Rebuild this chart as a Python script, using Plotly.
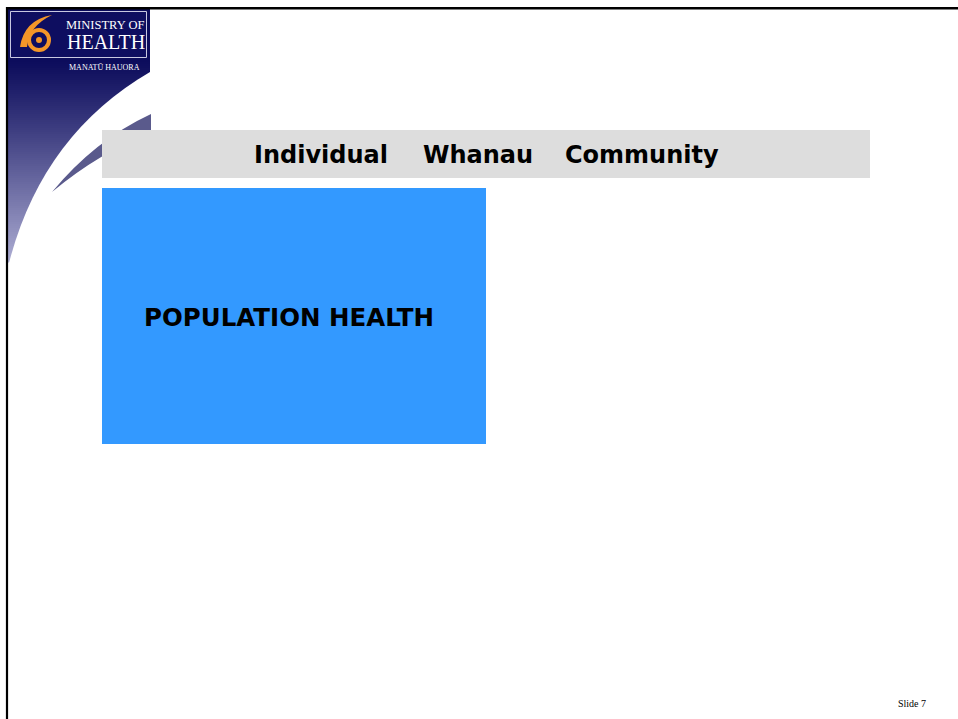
import plotly.graph_objects as go

# ---- content ----
header_words = ["Individual", "Whanau", "Community"]
box_label = "POPULATION HEALTH"
slide_label = "Slide 7"
logo_lines = ["MINISTRY OF", "HEALTH", "MANATŪ HAUORA"]

W, H = 958, 719

def lerp_color(c0, c1, t):
    return "rgb(%d,%d,%d)" % tuple(round(a + (b - a) * t) for a, b in zip(c0, c1))

shapes = []
# sidebar solid top
shapes.append(dict(type="rect", x0=7, x1=150, y0=8, y1=60, fillcolor="rgb(12,12,92)", line_width=0, layer="below"))
# sidebar gradient strips
c_top, c_bot = (12, 12, 92), (172, 172, 210)
y_start, y_end, n = 60, 262, 101
step = (y_end - y_start) / n
for i in range(n):
    t = i / (n - 1)
    shapes.append(dict(type="rect", x0=7, x1=150, y0=y_start + i * step, y1=y_start + (i + 1) * step + 0.6,
                       fillcolor=lerp_color(c_top, c_bot, t ** 1.1), line_width=0, layer="below"))
# white sweep
shapes.append(dict(type="path", path="M 150,72 Q 42,135 9,263 L 151,263 Z",
                   fillcolor="white", line_width=0, layer="below"))
# purple swoosh
shapes.append(dict(type="path", path="M 151,114 Q 95,140 52,192 Q 100,152 151,133 Z",
                   fillcolor="rgb(90,90,140)", line_width=0, layer="below"))
# logo box
shapes.append(dict(type="rect", x0=10.5, x1=146.5, y0=11.5, y1=57.5, fillcolor="rgb(14,14,96)",
                   line=dict(color="rgb(200,200,225)", width=1), layer="below"))
# orange glyph
orange = "rgb(244,150,40)"
shapes.append(dict(type="path", path="M 52,15 Q 24,20 20,47 L 27,47 Q 29,26 52,15 Z",
                   fillcolor=orange, line_width=0, layer="below"))
shapes.append(dict(type="circle", x0=29, x1=49, y0=30, y1=50, fillcolor="rgba(0,0,0,0)",
                   line=dict(color=orange, width=4), layer="below"))
shapes.append(dict(type="circle", x0=36, x1=42, y0=37, y1=43, fillcolor=orange,
                   line_width=0, layer="below"))
# gray header bar
shapes.append(dict(type="rect", x0=102, x1=870, y0=130, y1=178, fillcolor="#DDDDDD", line_width=0, layer="below"))
# blue box
shapes.append(dict(type="rect", x0=102, x1=486, y0=188, y1=444, fillcolor="#3399FF", line_width=0, layer="below"))
# slide border lines
shapes.append(dict(type="line", x0=6, x1=W, y0=8.2, y1=8.2, line=dict(color="black", width=2.5)))
shapes.append(dict(type="line", x0=7, x1=7, y0=7, y1=H, line=dict(color="black", width=2.2)))

annotations = []
head_font = dict(family="DejaVu Sans", size=24, color="black")
centers = [321, 478, 642]
for word, cx in zip(header_words, centers):
    annotations.append(dict(x=cx, y=155, text="<b>%s</b>" % word, showarrow=False, xanchor="center",
                            yanchor="middle", font=head_font))
annotations.append(dict(x=289, y=317, text="<b>%s</b>" % box_label, showarrow=False, xanchor="center",
                        yanchor="middle", font=dict(family="DejaVu Sans", size=24.5, color="black")))
annotations.append(dict(x=912, y=703, text=slide_label, showarrow=False, xanchor="center", yanchor="middle",
                        font=dict(family="Liberation Serif", size=10, color="black")))
# logo texts
annotations.append(dict(x=105, y=25, text=logo_lines[0], showarrow=False, xanchor="center", yanchor="middle",
                        font=dict(family="Liberation Serif", size=12.5, color="white")))
annotations.append(dict(x=106, y=42, text=logo_lines[1], showarrow=False, xanchor="center", yanchor="middle",
                        font=dict(family="Liberation Serif", size=20, color="white")))
annotations.append(dict(x=104, y=67, text=logo_lines[2], showarrow=False, xanchor="center", yanchor="middle",
                        font=dict(family="Liberation Serif", size=8, color="white")))

fig = go.Figure()
fig.update_layout(
    width=W, height=H, autosize=False,
    margin=dict(l=0, r=0, t=0, b=0, pad=0),
    paper_bgcolor="white", plot_bgcolor="white",
    xaxis=dict(range=[0, W], visible=False, fixedrange=True),
    yaxis=dict(range=[H, 0], visible=False, fixedrange=True),
    shapes=shapes, annotations=annotations, showlegend=False,
)
fig.write_html("out.html", config={"displayModeBar": False},
               post_script="document.body.style.margin='0';document.body.style.overflow='hidden';")
